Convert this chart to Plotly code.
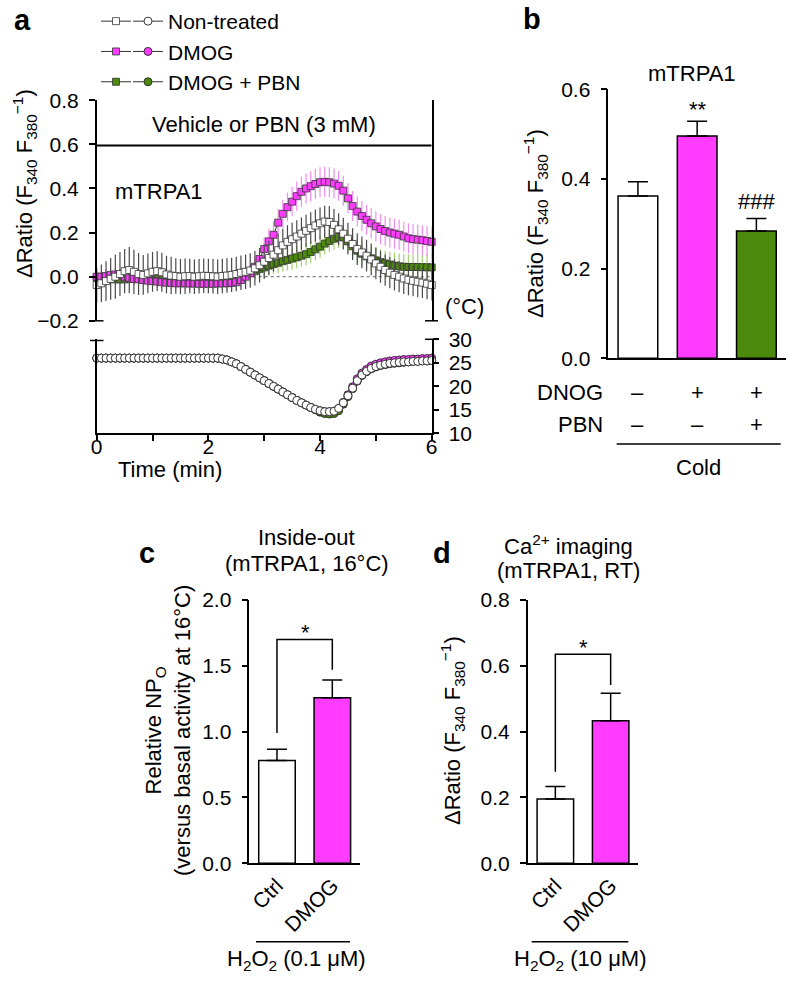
import plotly.graph_objects as go

W, H = 788, 981
FONT = "Liberation Sans, Arial, Helvetica, sans-serif"

# ---- panel a: sampling every 5 s over 6 min
time_s = list(range(0, 365, 5))
time_min = [s / 60 for s in time_s]

ratio_ctrl = [
    -0.038, -0.03, -0.02, -0.01, 0.0, 0.012, 0.025, 0.03, 0.022, 0.012, 0.008, 0.015,
    0.022, 0.025, 0.02, 0.01, 0.005, 0.003, 0.0, 0.002, 0.003, 0.0, 0.002, 0.004,
    0.003, 0.002, 0.0, 0.003, 0.005, 0.008, 0.012, 0.018, 0.022, 0.028, 0.038, 0.052,
    0.068, 0.085, 0.1, 0.12, 0.142, 0.158, 0.17, 0.182, 0.195, 0.208, 0.22, 0.232,
    0.242, 0.25, 0.248, 0.235, 0.215, 0.195, 0.172, 0.148, 0.125, 0.11, 0.095, 0.078,
    0.06, 0.045, 0.03, 0.018, 0.008, 0.0, -0.008, -0.014, -0.019, -0.023, -0.027, -0.032,
    -0.038]
ratio_ctrl_err = [
    0.08, 0.085, 0.09, 0.095, 0.1, 0.1, 0.1, 0.105, 0.1, 0.095, 0.09, 0.09,
    0.09, 0.09, 0.088, 0.085, 0.085, 0.08, 0.08, 0.08, 0.078, 0.078, 0.078, 0.078,
    0.078, 0.078, 0.078, 0.078, 0.078, 0.078, 0.078, 0.078, 0.078, 0.078, 0.078, 0.078,
    0.078, 0.078, 0.076, 0.075, 0.075, 0.075, 0.074, 0.074, 0.073, 0.073, 0.072, 0.072,
    0.072, 0.072, 0.072, 0.072, 0.072, 0.072, 0.072, 0.072, 0.072, 0.072, 0.072, 0.072,
    0.072, 0.072, 0.071, 0.071, 0.071, 0.071, 0.07, 0.07, 0.07, 0.07, 0.07, 0.07,
    0.07]

ratio_dmog = [
    0.0, 0.0, 0.003, 0.008, 0.01, 0.006, 0.0, -0.005, -0.01, -0.012, -0.015, -0.018,
    -0.02, -0.022, -0.025, -0.027, -0.028, -0.03, -0.03, -0.03, -0.031, -0.031, -0.032, -0.032,
    -0.032, -0.032, -0.031, -0.03, -0.03, -0.028, -0.025, -0.015, 0.0, 0.015, 0.045, 0.08,
    0.125, 0.16, 0.19, 0.245, 0.285, 0.315, 0.34, 0.365, 0.385, 0.4, 0.41, 0.42,
    0.428, 0.43, 0.428, 0.422, 0.412, 0.39, 0.355, 0.32, 0.295, 0.275, 0.258, 0.242,
    0.228, 0.216, 0.207, 0.2, 0.195, 0.19, 0.182, 0.174, 0.17, 0.168, 0.165, 0.162,
    0.158]
ratio_dmog_err = [
    0.028, 0.028, 0.028, 0.028, 0.028, 0.028, 0.028, 0.028, 0.028, 0.028, 0.028, 0.028,
    0.028, 0.028, 0.028, 0.028, 0.028, 0.028, 0.028, 0.028, 0.028, 0.028, 0.028, 0.028,
    0.028, 0.028, 0.028, 0.03, 0.03, 0.03, 0.032, 0.034, 0.036, 0.04, 0.045, 0.05,
    0.055, 0.058, 0.06, 0.062, 0.064, 0.065, 0.066, 0.067, 0.068, 0.068, 0.068, 0.068,
    0.068, 0.068, 0.068, 0.068, 0.068, 0.068, 0.068, 0.068, 0.068, 0.068, 0.068, 0.068,
    0.068, 0.068, 0.068, 0.068, 0.068, 0.068, 0.068, 0.068, 0.068, 0.068, 0.068, 0.068,
    0.068]

ratio_pbn = [
    -0.005, -0.006, -0.008, -0.01, -0.012, -0.012, -0.012, -0.01, -0.008, -0.008, -0.006, -0.006,
    -0.006, -0.006, -0.007, -0.008, -0.008, -0.008, -0.008, -0.008, -0.008, -0.007, -0.006, -0.006,
    -0.005, -0.004, -0.003, -0.002, 0.0, 0.002, 0.005, 0.008, 0.012, 0.018, 0.025, 0.035,
    0.042, 0.05, 0.057, 0.063, 0.07, 0.076, 0.082, 0.088, 0.095, 0.102, 0.112, 0.124,
    0.136, 0.15, 0.162, 0.172, 0.18, 0.178, 0.16, 0.138, 0.118, 0.104, 0.092, 0.083,
    0.074, 0.066, 0.06, 0.055, 0.05, 0.047, 0.045, 0.044, 0.044, 0.044, 0.043, 0.043,
    0.042]
ratio_pbn_err = [
    0.025, 0.025, 0.025, 0.025, 0.025, 0.025, 0.025, 0.025, 0.025, 0.025, 0.025, 0.025,
    0.025, 0.025, 0.025, 0.025, 0.025, 0.025, 0.025, 0.025, 0.025, 0.025, 0.025, 0.025,
    0.025, 0.025, 0.025, 0.026, 0.027, 0.028, 0.03, 0.032, 0.034, 0.036, 0.038, 0.04,
    0.042, 0.044, 0.045, 0.046, 0.047, 0.048, 0.05, 0.05, 0.05, 0.05, 0.05, 0.05,
    0.05, 0.05, 0.05, 0.05, 0.05, 0.05, 0.05, 0.052, 0.054, 0.055, 0.056, 0.057,
    0.058, 0.058, 0.058, 0.058, 0.058, 0.058, 0.058, 0.058, 0.058, 0.058, 0.058, 0.058,
    0.058]

temp_ctrl = [
    26.0, 26.0, 26.0, 26.0, 26.0, 26.0, 26.0, 26.0, 26.0, 26.0, 26.0, 26.0,
    26.0, 26.0, 26.0, 26.0, 26.0, 26.0, 26.0, 26.0, 26.0, 26.0, 26.0, 26.0,
    26.0, 26.0, 26.0, 25.8, 25.6, 25.2, 24.8, 24.2, 23.6, 23.0, 22.4, 21.8,
    21.2, 20.6, 20.0, 19.4, 18.8, 18.2, 17.6, 17.0, 16.5, 16.0, 15.5, 15.1,
    14.8, 14.6, 14.6, 14.7, 15.3, 16.5, 18.0, 19.6, 21.2, 22.4, 23.2, 23.8,
    24.2, 24.5, 24.7, 24.9, 25.0, 25.1, 25.2, 25.2, 25.3, 25.3, 25.4, 25.4,
    25.5]
temp_dmog = [
    26.0, 26.0, 26.0, 26.0, 26.0, 26.0, 26.0, 26.0, 26.0, 26.0, 26.0, 26.0,
    26.0, 26.0, 26.0, 26.0, 26.0, 26.0, 26.0, 26.0, 26.0, 26.0, 26.0, 26.0,
    26.0, 26.0, 26.0, 25.8, 25.6, 25.2, 24.8, 24.2, 23.6, 23.0, 22.4, 21.8,
    21.2, 20.6, 20.0, 19.4, 18.8, 18.2, 17.6, 17.0, 16.5, 16.0, 15.5, 15.1,
    14.8, 14.6, 14.6, 14.7, 15.3, 16.6, 18.2, 19.9, 21.6, 22.8, 23.6, 24.3,
    24.7, 25.0, 25.2, 25.4, 25.5, 25.6, 25.7, 25.7, 25.8, 25.8, 25.9, 25.9,
    26.0]
temp_pbn = [
    26.0, 26.0, 26.0, 26.0, 26.0, 26.0, 26.0, 26.0, 26.0, 26.0, 26.0, 26.0,
    26.0, 26.0, 26.0, 26.0, 26.0, 26.0, 26.0, 26.0, 26.0, 26.0, 26.0, 26.0,
    26.0, 26.0, 26.0, 25.8, 25.6, 25.2, 24.8, 24.2, 23.6, 23.0, 22.4, 21.8,
    21.2, 20.6, 20.0, 19.4, 18.8, 18.2, 17.6, 17.0, 16.5, 16.0, 15.5, 15.0,
    14.5, 14.2, 14.1, 14.2, 14.8, 16.2, 17.8, 19.5, 21.1, 22.3, 23.1, 23.7,
    24.1, 24.4, 24.6, 24.8, 24.9, 25.0, 25.1, 25.2, 25.3, 25.3, 25.4, 25.4,
    25.5]

series_names = ["Non-treated", "DMOG", "DMOG + PBN"]

# ---- panel b
b_groups = ["Non-treated", "DMOG", "DMOG + PBN"]
b_values = [0.362, 0.496, 0.284]
b_errors = [0.032, 0.033, 0.028]
b_dmog_row = ["–", "+", "+"]
b_pbn_row = ["–", "–", "+"]

# ---- panels c and d
cd_groups = ["Ctrl", "DMOG"]
c_values = [0.78, 1.258]
c_errors = [0.087, 0.135]
d_values = [0.195, 0.433]
d_errors = [0.038, 0.084]

MAGENTA = "#ff3cff"
MAGENTA_LIGHT = "#f08cf0"
GREEN = "#4b8a0c"
GREEN_LIGHT = "#a3cf72"
GREY = "#4a4a4a"


def fx(px):
    return px / W


def fy(py):
    return 1 - py / H


fig = go.Figure()

# ratio traces, drawn green, magenta, white (white on top).
# Their legend only shows the square symbol; the names sit in the circle legend.
ratio_specs = [
    (ratio_pbn, ratio_pbn_err, GREEN, GREEN_LIGHT, 3),
    (ratio_dmog, ratio_dmog_err, MAGENTA, MAGENTA_LIGHT, 2),
    (ratio_ctrl, ratio_ctrl_err, "white", GREY, 1),
]
for vals, errs, fill, ecol, rank in ratio_specs:
    fig.add_trace(go.Scatter(
        x=time_min, y=vals, mode="lines+markers", name="\u00a0",
        hovertext=series_names[rank - 1],
        legend="legend", legendrank=rank,
        line=dict(color="#333333", width=1),
        marker=dict(symbol="square", size=7, color=fill,
                    line=dict(color="#333333", width=0.8)),
        error_y=dict(type="data", array=errs, color=ecol, thickness=1.2, width=0),
        cliponaxis=False, xaxis="x", yaxis="y"))

temp_specs = [(temp_pbn, GREEN, 3), (temp_dmog, MAGENTA, 2), (temp_ctrl, "white", 1)]
for vals, fill, rank in temp_specs:
    fig.add_trace(go.Scatter(
        x=time_min, y=vals, mode="lines+markers", name=series_names[rank - 1],
        legend="legend2", legendrank=rank,
        line=dict(color="#333333", width=1),
        marker=dict(symbol="circle", size=8, color=fill,
                    line=dict(color="#222222", width=0.9)),
        cliponaxis=False, xaxis="x2", yaxis="y2"))

# panel b bars
fig.add_trace(go.Bar(
    x=b_groups, y=b_values, width=0.67, showlegend=False,
    marker=dict(color=["white", MAGENTA, GREEN], line=dict(color="black", width=1.5)),
    error_y=dict(type="data", array=b_errors, arrayminus=[0] * 3, symmetric=False,
                 color="black", thickness=1.5, width=10),
    xaxis="x3", yaxis="y3"))

# panel c bars
fig.add_trace(go.Bar(
    x=cd_groups, y=c_values, width=0.66, showlegend=False,
    marker=dict(color=["white", MAGENTA], line=dict(color="black", width=1.5)),
    error_y=dict(type="data", array=c_errors, arrayminus=[0] * 2, symmetric=False,
                 color="black", thickness=1.5, width=10),
    xaxis="x4", yaxis="y4"))

# panel d bars
fig.add_trace(go.Bar(
    x=cd_groups, y=d_values, width=0.66, showlegend=False,
    marker=dict(color=["white", MAGENTA], line=dict(color="black", width=1.5)),
    error_y=dict(type="data", array=d_errors, arrayminus=[0] * 2, symmetric=False,
                 color="black", thickness=1.5, width=10),
    xaxis="x5", yaxis="y5"))

axis_common = dict(showline=True, linecolor="black", linewidth=1.5, ticks="outside",
                   ticklen=6, tickwidth=1.5, tickcolor="black", showgrid=False,
                   zeroline=False, automargin=False,
                   tickfont=dict(size=21, color="black"))
cat_axis = dict(showline=True, linecolor="black", linewidth=1.5, ticks="",
                showgrid=False, zeroline=False, automargin=False)

A_X = [fx(96.7), fx(431.7)]
fig.update_layout(
    xaxis=dict(domain=A_X, range=[0, 6], visible=False, anchor="y", automargin=False),
    yaxis=dict(domain=[fy(320.8), fy(100.2)], range=[-0.2, 0.8], anchor="x",
               tickvals=[-0.2, 0, 0.2, 0.4, 0.6, 0.8], tickformat=".1f",
               mirror=True, ticklabelstandoff=6, **axis_common),
    xaxis2=dict(domain=A_X, range=[0, 6], anchor="y2",
                tickvals=[0, 1, 2, 3, 4, 5, 6], ticktext=["0", "", "2", "", "4", "", "6"],
                **axis_common),
    yaxis2=dict(domain=[fy(433.3), fy(339.3)], range=[10, 30], anchor="x2", side="right",
                tickvals=[10, 15, 20, 25, 30], mirror=True, ticklabelstandoff=5,
                **axis_common),
    xaxis3=dict(domain=[fx(608.3), fx(786)], range=[-0.5, 2.5], anchor="y3",
                showticklabels=False, **cat_axis),
    yaxis3=dict(domain=[fy(358.3), fy(89.3)], range=[0, 0.6], anchor="x3",
                tickvals=[0, 0.2, 0.4, 0.6], tickformat=".1f", ticklabelstandoff=6,
                **axis_common),
    xaxis4=dict(domain=[fx(249.3), fx(360)], range=[-0.5, 1.5], anchor="y4",
                tickangle=-45, tickfont=dict(size=21, color="black"), **cat_axis),
    yaxis4=dict(domain=[fy(863.3), fy(600)], range=[0, 2.0], anchor="x4",
                tickvals=[0, 0.5, 1.0, 1.5, 2.0], tickformat=".1f", ticklabelstandoff=6,
                **axis_common),
    xaxis5=dict(domain=[fx(527.7), fx(638.3)], range=[-0.5, 1.5], anchor="y5",
                tickangle=-45, tickfont=dict(size=21, color="black"), **cat_axis),
    yaxis5=dict(domain=[fy(863.3), fy(600)], range=[0, 0.8], anchor="x5",
                tickvals=[0, 0.2, 0.4, 0.6, 0.8], tickformat=".1f", ticklabelstandoff=6,
                **axis_common),
)

# pull the time tick labels up close to the axis, as in the original
try:
    fig.layout.xaxis2.ticklabelstandoff = -12
except ValueError:
    fig.layout.xaxis2.ticklen = 3

# legends: squares (no text) and circles with names
fig.update_layout(
    legend=dict(x=fx(96), y=fy(1), xanchor="left", yanchor="top",
                bgcolor="rgba(0,0,0,0)", font=dict(size=21, color="black"),
                tracegroupgap=0, itemclick=False, itemdoubleclick=False),
    legend2=dict(x=fx(128), y=fy(1), xanchor="left", yanchor="top",
                 bgcolor="rgba(0,0,0,0)", font=dict(size=21, color="black"),
                 tracegroupgap=0, itemclick=False, itemdoubleclick=False),
)

shapes = []
# PBN application bar and zero reference line
shapes.append(dict(type="line", xref="x", yref="y", x0=0, x1=6, y0=0.595, y1=0.595,
                   line=dict(color="black", width=2)))
shapes.append(dict(type="line", xref="x", yref="y", x0=0, x1=6, y0=0, y1=0,
                   line=dict(color="#666666", width=1, dash="dot"), layer="below"))
# axis-break ticks
for x0, x1, y in [(90, 103.5, 320.8), (425, 438, 320.8), (90, 103.5, 340.5), (425, 438, 339.3)]:
    shapes.append(dict(type="line", xref="paper", yref="paper", x0=fx(x0), x1=fx(x1),
                       y0=fy(y), y1=fy(y), line=dict(color="black", width=1.5)))
# panel b separator line
shapes.append(dict(type="line", xref="paper", yref="paper", x0=fx(616.7), x1=fx(780.7),
                   y0=fy(444), y1=fy(444), line=dict(color="black", width=1.5)))
# H2O2 lines
for x0, x1 in [(256, 350), (531.7, 628.3)]:
    shapes.append(dict(type="line", xref="paper", yref="paper", x0=fx(x0), x1=fx(x1),
                       y0=fy(941.7), y1=fy(941.7), line=dict(color="black", width=1.5)))
# significance brackets
shapes.append(dict(type="path", xref="x4", yref="y4",
                   path="M 0,0.99 L 0,1.70 L 1,1.70 L 1,1.47",
                   line=dict(color="black", width=1.5)))
shapes.append(dict(type="path", xref="x5", yref="y5",
                   path="M 0,0.278 L 0,0.635 L 1,0.635 L 1,0.542",
                   line=dict(color="black", width=1.5)))
fig.update_layout(shapes=shapes)

ann = []


def text(x, y, s, size=22, xanchor="center", yanchor="middle", angle=0, bold=False,
         xref="paper"):
    if xref == "paper":
        x = fx(x)
    ann.append(dict(x=x, y=fy(y), xref=xref, yref="paper",
                    text=("<b>%s</b>" % s) if bold else s,
                    showarrow=False, xanchor=xanchor, yanchor=yanchor, textangle=angle,
                    font=dict(size=size, color="black")))


text(22, 20, "a", size=29, bold=True)
text(531.7, 19, "b", size=29, bold=True)
text(146.7, 553, "c", size=29, bold=True)
text(441.7, 553, "d", size=29, bold=True)

text(264, 125, "Vehicle or PBN (3 mM)")
text(113, 191, "mTRPA1", xanchor="left")
text(25, 184, "ΔRatio (F<sub>340</sub> F<sub>380</sub><sup>−1</sup>)", angle=-90)
text(443, 307, "(°C)", xanchor="left")
text(170, 469, "Time (min)")

text(692.3, 74, "mTRPA1")
text(535, 224, "ΔRatio (F<sub>340</sub> F<sub>380</sub><sup>−1</sup>)", angle=-90)
text(698.3, 110, "**")
text(756.7, 202, "###")
text(605, 392, "DNOG", xanchor="right")
text(605, 425, "PBN", xanchor="right")
for g, s1, s2 in zip(b_groups, b_dmog_row, b_pbn_row):
    text(g, 392, s1, xref="x3")
    text(g, 425, s2, xref="x3")
text(698.3, 467, "Cold")

text(306.7, 537, "Inside-out")
text(306.7, 563, "(mTRPA1, 16°C)")
text(168, 731, "Relative NP<sub>O</sub><br>(versus basal activity at 16°C)", angle=-90)
text(305, 632, "*")
text(296.7, 960, "H<sub>2</sub>O<sub>2</sub> (0.1 μM)")

text(568.3, 545, "Ca<sup>2+</sup> imaging")
text(568.3, 570, "(mTRPA1, RT)")
text(452, 731, "ΔRatio (F<sub>340</sub> F<sub>380</sub><sup>−1</sup>)", angle=-90)
text(583.3, 647, "*")
text(580, 960, "H<sub>2</sub>O<sub>2</sub> (10 μM)")

fig.update_layout(
    template="none",
    annotations=ann,
    width=W, height=H, margin=dict(l=0, r=0, t=0, b=0, autoexpand=False),
    paper_bgcolor="white", plot_bgcolor="white",
    font=dict(family=FONT, size=22, color="black"),
)

# the page's default body margin would push the figure 8 px down and right
fig.write_html("out.html", config={"displayModeBar": False},
               post_script="document.body.style.margin='0';document.body.style.overflow='hidden';")
